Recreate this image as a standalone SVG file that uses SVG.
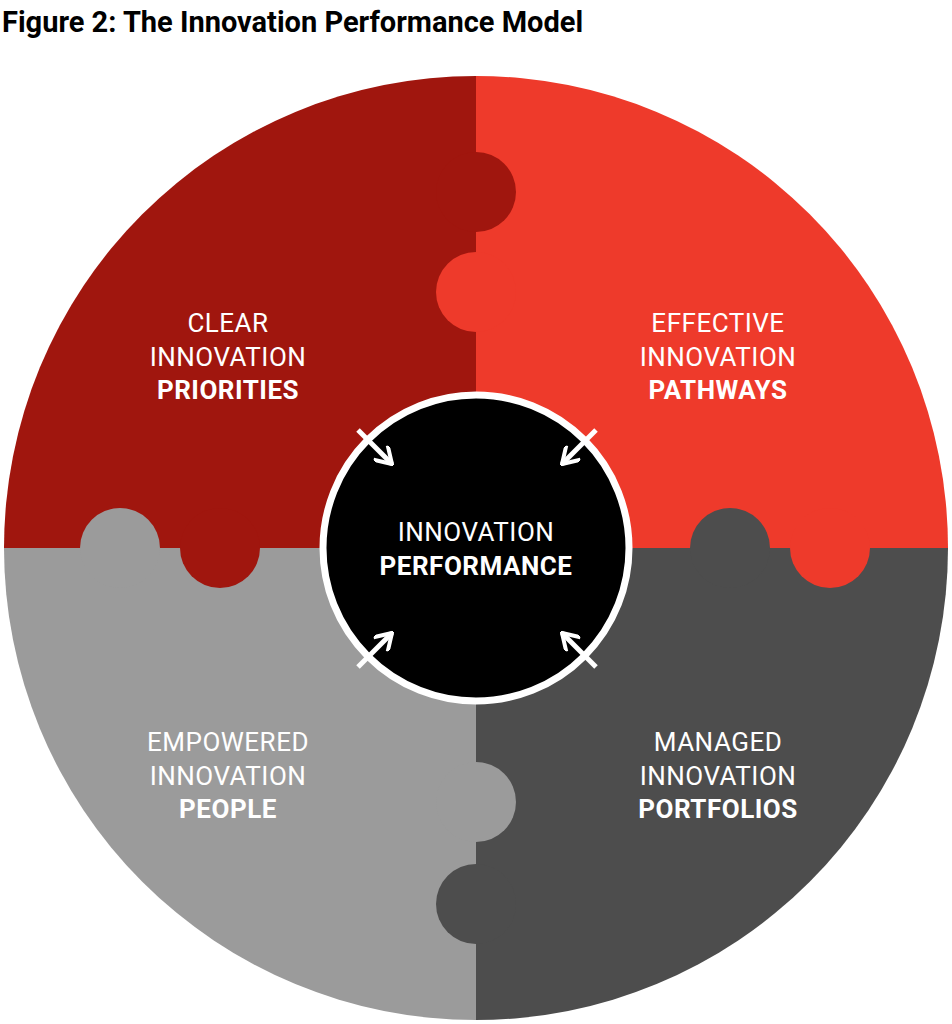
<svg xmlns="http://www.w3.org/2000/svg" width="952" height="1024" viewBox="0 0 952 1024">
<style>
.t{font-family:"Roboto","Liberation Sans",sans-serif;fill:#fff;font-size:26px;text-anchor:middle;letter-spacing:0.5px}
.b{font-weight:bold}
.ar{stroke:#fff;stroke-width:5;fill:none}
</style>
<defs>
<marker id="h" viewBox="0 0 10 10" refX="9" refY="5" markerWidth="4" markerHeight="4" orient="auto" markerUnits="strokeWidth">
<path d="M1,0 L9,5 L1,10" fill="none" stroke="#fff" stroke-width="2"/>
</marker>
</defs>
<rect width="952" height="1024" fill="#fff"/>
<text x="2" y="32" style="font-family:'Roboto','Liberation Sans',sans-serif;font-weight:bold;font-size:29px;fill:#000">Figure 2: The Innovation Performance Model</text>
<g id="q-priorities">
<path d="M476,548 L4,548 A472,472 0 0 1 476,76 Z" fill="#A0160E"/>
</g>
<g id="q-pathways">
<path d="M476,548 L476,76 A472,472 0 0 1 948,548 Z" fill="#EE3A2B"/>
</g>
<g id="q-portfolios">
<path d="M476,548 L948,548 A472,472 0 0 1 476,1020 Z" fill="#4D4D4D"/>
</g>
<g id="q-people">
<path d="M476,548 L476,1020 A472,472 0 0 1 4,548 Z" fill="#9B9B9B"/>
</g>
<g id="tabs">
<circle cx="476" cy="192" r="40" fill="#A0160E"/>
<circle cx="476" cy="292" r="40" fill="#EE3A2B"/>
<circle cx="120" cy="548" r="40" fill="#9B9B9B"/>
<circle cx="220" cy="548" r="40" fill="#A0160E"/>
<circle cx="730" cy="548" r="40" fill="#4D4D4D"/>
<circle cx="830" cy="548" r="40" fill="#EE3A2B"/>
<circle cx="476" cy="802" r="40" fill="#9B9B9B"/>
<circle cx="476" cy="904" r="40" fill="#4D4D4D"/>
</g>
<g id="center">
<circle cx="476" cy="548" r="153" fill="#000" stroke="#fff" stroke-width="7"/>
<text class="t" x="476" y="541">INNOVATION</text>
<text class="t b" x="476" y="575">PERFORMANCE</text>
</g>
<g id="connectors">
<line class="ar" x1="358" y1="430" x2="392" y2="464" marker-end="url(#h)"/>
<line class="ar" x1="596" y1="430" x2="562" y2="464" marker-end="url(#h)"/>
<line class="ar" x1="358" y1="667" x2="392" y2="633" marker-end="url(#h)"/>
<line class="ar" x1="596" y1="667" x2="562" y2="633" marker-end="url(#h)"/>
</g>
<g id="l-priorities">
<text class="t" x="228" y="332">CLEAR</text>
<text class="t" x="228" y="366">INNOVATION</text>
<text class="t b" x="228" y="399">PRIORITIES</text>
</g>
<g id="l-pathways">
<text class="t" x="718" y="332">EFFECTIVE</text>
<text class="t" x="718" y="366">INNOVATION</text>
<text class="t b" x="718" y="399">PATHWAYS</text>
</g>
<g id="l-people">
<text class="t" x="228" y="751">EMPOWERED</text>
<text class="t" x="228" y="785">INNOVATION</text>
<text class="t b" x="228" y="818">PEOPLE</text>
</g>
<g id="l-portfolios">
<text class="t" x="718" y="751">MANAGED</text>
<text class="t" x="718" y="785">INNOVATION</text>
<text class="t b" x="718" y="818">PORTFOLIOS</text>
</g>
</svg>
